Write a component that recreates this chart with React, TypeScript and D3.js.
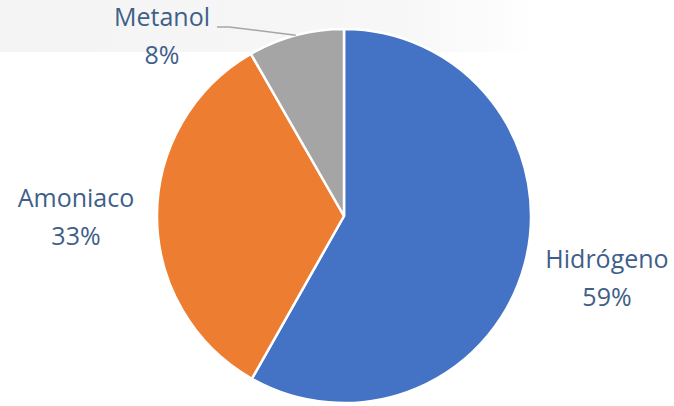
import React from "react";
import * as d3 from "d3";

const categories = ["Hidrógeno", "Amoniaco", "Metanol"];
const values = [58.2, 33.5, 8.3];
const percentLabels = ["59%", "33%", "8%"];
const colors = ["#4472C4", "#ED7D31", "#A5A5A5"];

const W = 674;
const H = 406;
const cx = 344;
const cy = 216;
const R = 187;

// label anchor positions (centered text, first-line baseline)
const labelPos: [number, number][] = [
  [607, 268],
  [76, 207],
  [162, 26],
];

export default function App() {
  const pie = d3
    .pie<number>()
    .sort(null)
    .startAngle(0)
    .endAngle(2 * Math.PI)
    .value((d) => d);
  const arcs = pie(values);
  const arc = d3.arc<d3.PieArcDatum<number>>().innerRadius(0).outerRadius(R);

  const met = arcs[2];
  const mid = (met.startAngle + met.endAngle) / 2;
  const endR = R;
  const lx = Math.sin(mid) * endR;
  const ly = -Math.cos(mid) * endR;

  return (
    <div style={{ position: "fixed", left: 0, top: 0, width: W, height: H, background: "#fff" }}>
      <svg width={W} height={H} style={{ display: "block" }}>
        <defs>
          <linearGradient id="bg" x1="0" x2="1" y1="0" y2="0">
            <stop offset="0" stopColor="#f4f4f4" />
            <stop offset="0.6" stopColor="#f7f7f7" />
            <stop offset="0.8" stopColor="#ffffff" />
          </linearGradient>
        </defs>
        <rect x={0} y={0} width={W} height={52} fill="url(#bg)" />
        <g transform={`translate(${cx},${cy})`}>
          {arcs.map((a, i) => (
            <path key={i} d={arc(a) || ""} fill={colors[i]} stroke="#fff" strokeWidth={2.5} strokeLinejoin="round" />
          ))}
        </g>
        <polyline
          points={`217,27 229,27 ${cx + lx},${cy + ly}`}
          fill="none"
          stroke="#a6a6a6"
          strokeWidth={1.5}
        />
        {categories.map((c, i) => (
          <text
            key={c}
            x={labelPos[i][0]}
            y={labelPos[i][1]}
            textAnchor="middle"
            fontFamily="'Open Sans', sans-serif"
            fontSize={25}
            fill="#3F5F8A"
          >
            <tspan x={labelPos[i][0]}>{c}</tspan>
            <tspan x={labelPos[i][0]} dy={38}>
              {percentLabels[i]}
            </tspan>
          </text>
        ))}
      </svg>
    </div>
  );
}
